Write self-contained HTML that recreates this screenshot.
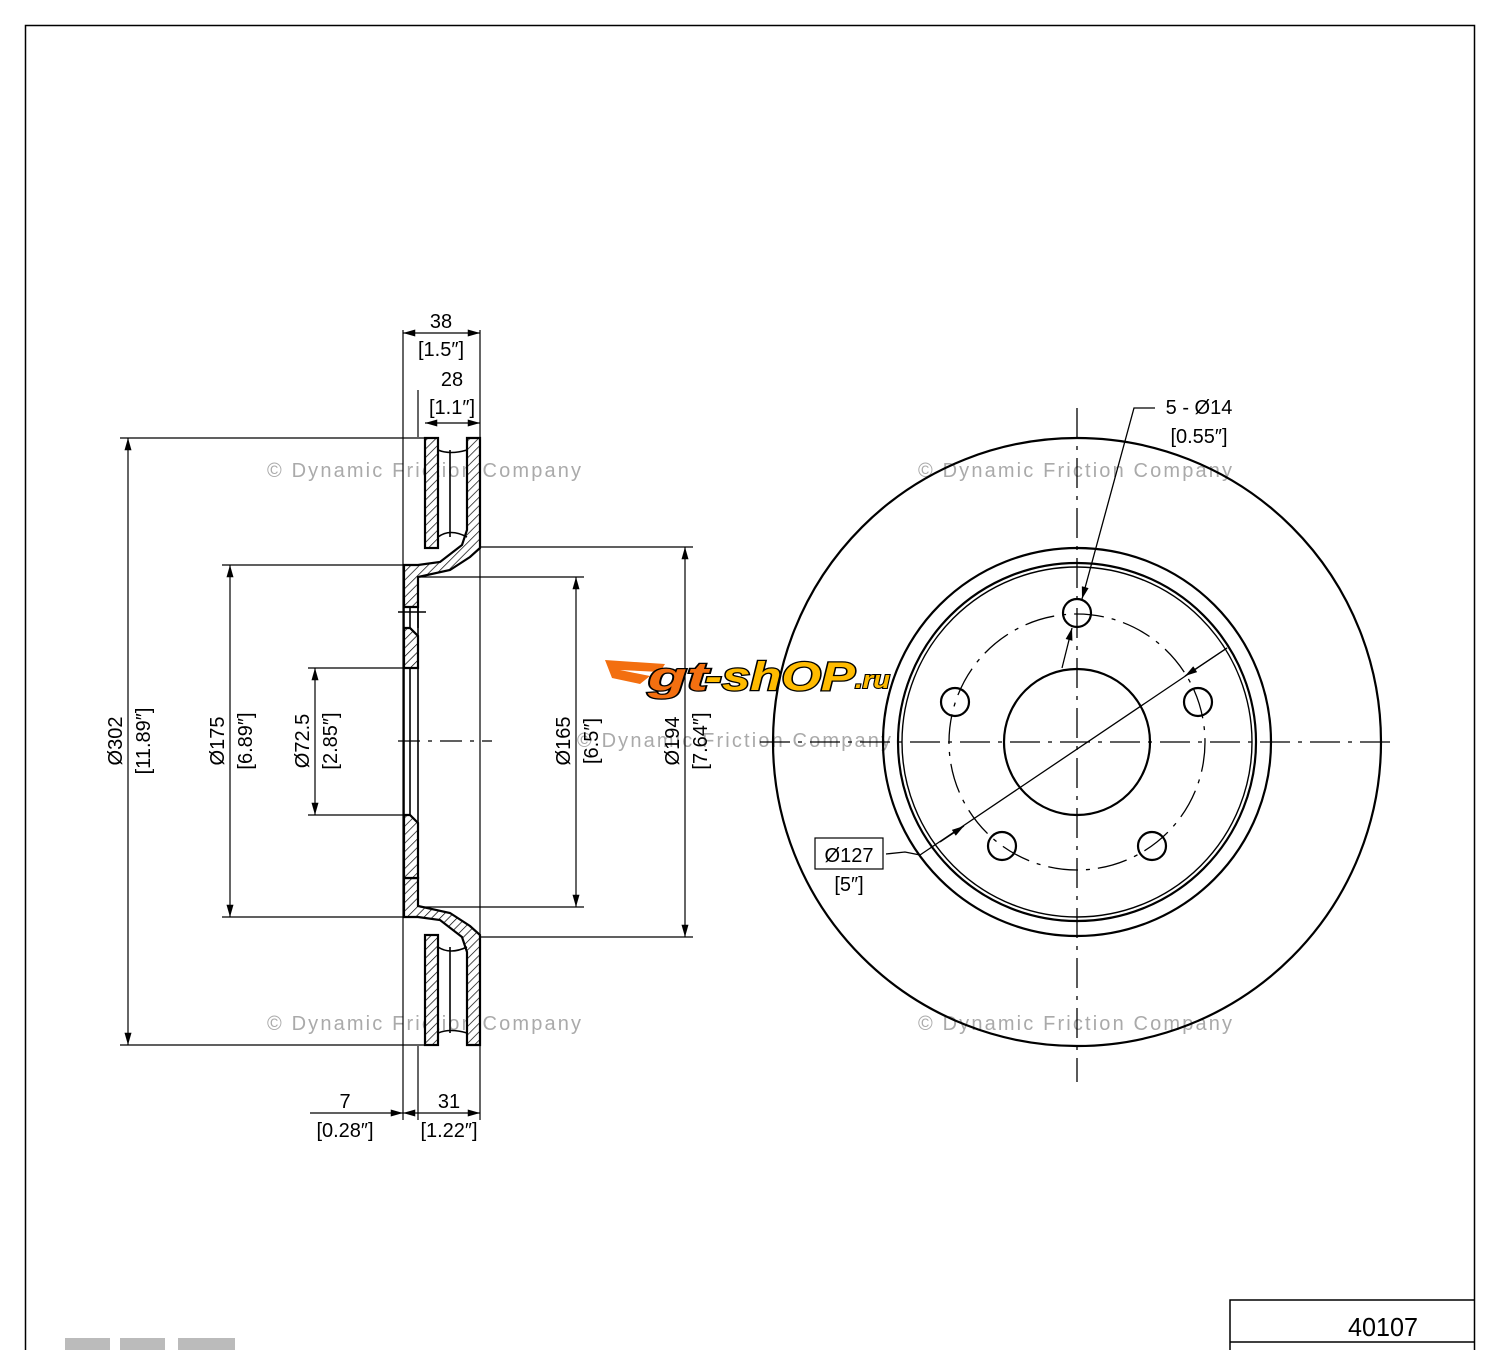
<!DOCTYPE html>
<html><head><meta charset="utf-8"><style>
body{margin:0;background:#fff}
svg text{font-family:"Liberation Sans",sans-serif}
</style></head><body>
<svg width="1500" height="1350" viewBox="0 0 1500 1350" xmlns="http://www.w3.org/2000/svg">
<defs>
<pattern id="h" patternUnits="userSpaceOnUse" width="6" height="6" patternTransform="rotate(45)">
<rect width="6" height="6" fill="#fff"/><line x1="0" y1="0" x2="0" y2="6" stroke="#000" stroke-width="1.4"/></pattern>
<marker id="a" viewBox="0 0 14 8" refX="14" refY="4" markerWidth="14" markerHeight="7" orient="auto-start-reverse" markerUnits="userSpaceOnUse"><path d="M0,0 L14,4 L0,8z" fill="#000"/></marker>
</defs>
<rect x="25.5" y="25.5" width="1449" height="1340" fill="none" stroke="#000" stroke-width="1.5"/>
<polyline points="1230,1350 1230,1300 1475,1300" fill="none" stroke="#000" stroke-width="1.5"/>
<line x1="1230" y1="1342" x2="1475" y2="1342" stroke="#000" stroke-width="1.5"/>
<text x="1418" y="1336" font-size="26" text-anchor="end" textLength="70" lengthAdjust="spacingAndGlyphs">40107</text>
<g fill="#bbb"><rect x="65" y="1338" width="45" height="12"/><rect x="120" y="1338" width="45" height="12"/><rect x="178" y="1338" width="57" height="12"/></g>

<g fill="#aaa" font-size="20">
<text x="267" y="477" textLength="314">© Dynamic Friction Company</text>
<text x="918" y="477" textLength="314">© Dynamic Friction Company</text>
<text x="577" y="747" textLength="314">© Dynamic Friction Company</text>
<text x="267" y="1030" textLength="314">© Dynamic Friction Company</text>
<text x="918" y="1030" textLength="314">© Dynamic Friction Company</text>
</g>

<!-- left section view -->
<g stroke="#000" stroke-width="2.2" fill="url(#h)">
<rect x="425" y="438" width="13" height="110"/>
<rect x="425" y="935" width="13" height="110"/>
<path d="M467,438 H480 V548 L470,557 L450,570 L418,577 V607 H404 V565 H418 L440,562 L462,545 L467,530z"/>
<path d="M467,1045 H480 V935 L470,926 L450,913 L418,906 V878 H404 V917 H418 L440,920 L462,937 L467,952z"/>
<path d="M404,628 H410 L418,636 V668 H404z"/>
<path d="M404,815 H410 L418,823 V878 H404z"/>
</g>
<g stroke="#000" stroke-width="1.6" fill="none">
<path d="M438,450 Q450,455 467,450 M438,537 Q450,528 467,537 M438,947 Q450,955 467,947 M438,1033 Q450,1028 467,1033"/>
<line x1="450" y1="450" x2="450" y2="537"/><line x1="450" y1="947" x2="450" y2="1033"/>
<line x1="404" y1="607" x2="404" y2="628"/><line x1="410" y1="607" x2="410" y2="628"/>
<line x1="418" y1="607" x2="418" y2="628"/>
<line x1="404" y1="668" x2="404" y2="815"/><line x1="410" y1="668" x2="410" y2="815"/>
<line x1="418" y1="577" x2="418" y2="906"/>
<line x1="398" y1="612" x2="426" y2="612"/>
</g>
<g stroke="#000" stroke-width="1.2" fill="none">
<line x1="403" y1="330" x2="403" y2="1120"/><line x1="480" y1="330" x2="480" y2="1120"/>
<line x1="418" y1="390" x2="418" y2="437"/><line x1="418" y1="1046" x2="418" y2="1120"/>
<line x1="120" y1="438" x2="425" y2="438"/><line x1="120" y1="1045" x2="425" y2="1045"/>
<line x1="222" y1="565" x2="403" y2="565"/><line x1="222" y1="917" x2="403" y2="917"/>
<line x1="308" y1="668" x2="403" y2="668"/><line x1="308" y1="815" x2="403" y2="815"/>
<line x1="420" y1="577" x2="584" y2="577"/><line x1="420" y1="907" x2="584" y2="907"/>
<line x1="481" y1="547" x2="693" y2="547"/><line x1="481" y1="937" x2="693" y2="937"/>
<line x1="398" y1="741" x2="492" y2="741" stroke-dasharray="22,8,4,8"/>
<line x1="128" y1="438" x2="128" y2="1045" marker-start="url(#a)" marker-end="url(#a)"/>
<line x1="230" y1="565" x2="230" y2="917" marker-start="url(#a)" marker-end="url(#a)"/>
<line x1="315" y1="668" x2="315" y2="815" marker-start="url(#a)" marker-end="url(#a)"/>
<line x1="576" y1="577" x2="576" y2="907" marker-start="url(#a)" marker-end="url(#a)"/>
<line x1="685" y1="547" x2="685" y2="937" marker-start="url(#a)" marker-end="url(#a)"/>
<line x1="403" y1="333" x2="480" y2="333" marker-start="url(#a)" marker-end="url(#a)"/>
<line x1="425" y1="423" x2="480" y2="423" marker-start="url(#a)" marker-end="url(#a)"/>
<line x1="403" y1="1113" x2="480" y2="1113" marker-start="url(#a)" marker-end="url(#a)"/>
<line x1="310" y1="1113" x2="403" y2="1113" marker-end="url(#a)"/>
</g>
<g font-size="20" text-anchor="middle" fill="#000">
<text x="441" y="328">38</text><text x="441" y="356">[1.5″]</text>
<text x="452" y="386">28</text><text x="452" y="414">[1.1″]</text>
<text x="345" y="1108">7</text><text x="345" y="1137">[0.28″]</text>
<text x="449" y="1108">31</text><text x="449" y="1137">[1.22″]</text>
<text transform="translate(122,741) rotate(-90)">Ø302</text>
<text transform="translate(150,741) rotate(-90)">[11.89″]</text>
<text transform="translate(224,741) rotate(-90)">Ø175</text>
<text transform="translate(252,741) rotate(-90)">[6.89″]</text>
<text transform="translate(309,741) rotate(-90)">Ø72.5</text>
<text transform="translate(337,741) rotate(-90)">[2.85″]</text>
<text transform="translate(570,741) rotate(-90)">Ø165</text>
<text transform="translate(598,741) rotate(-90)">[6.5″]</text>
<text transform="translate(679,741) rotate(-90)">Ø194</text>
<text transform="translate(707,741) rotate(-90)">[7.64″]</text>
</g>

<!-- right view -->
<g stroke="#000" stroke-width="2.2" fill="none">
<circle cx="1077" cy="742" r="304"/>
<circle cx="1077" cy="742" r="194"/>
<circle cx="1077" cy="742" r="179"/>
<circle cx="1077" cy="742" r="175" stroke-width="1.4"/>
<circle cx="1077" cy="742" r="73"/>
<circle cx="1077" cy="613" r="14"/>
<circle cx="1198" cy="702" r="14"/>
<circle cx="1152" cy="846" r="14"/>
<circle cx="1002" cy="846" r="14"/>
<circle cx="955" cy="702" r="14"/>
</g>
<g stroke="#000" stroke-width="1.3" fill="none">
<circle cx="1077" cy="742" r="128" stroke-dasharray="30,8,4,8"/>
<line x1="1077" y1="408" x2="1077" y2="1082" stroke-dasharray="30,8,4,8"/>
<line x1="760" y1="742" x2="1398" y2="742" stroke-dasharray="30,8,4,8"/>
<line x1="1227" y1="648" x2="920" y2="855"/>
<line x1="1185" y1="676" x2="1227" y2="648" marker-start="url(#a)"/>
<line x1="940" y1="842" x2="964" y2="826" marker-end="url(#a)"/>
<polyline points="920,855 905,852 886,854"/>
<polyline points="1155,408 1134,408 1082,599" marker-end="url(#a)"/>
<line x1="1062" y1="668" x2="1072" y2="628" marker-end="url(#a)"/>
<rect x="815" y="838" width="68" height="31" stroke-width="1.2"/>
</g>
<g font-size="20" fill="#000" text-anchor="middle">
<text x="1199" y="414">5 - Ø14</text><text x="1199" y="443">[0.55″]</text>
<text x="849" y="862">Ø127</text><text x="849" y="891">[5″]</text>
</g>

<g>
<path d="M605,660 L665,664 L660,672 L620,670 L650,676 L640,684 L612,678z" fill="#f36f10"/>
<text x="648" y="690" font-size="40" font-weight="bold" font-style="italic" fill="#f36f10" stroke="#000" stroke-width="2.5" paint-order="stroke" textLength="60" lengthAdjust="spacingAndGlyphs">gt</text>
<text x="705" y="690" font-size="40" font-weight="bold" font-style="italic" fill="#ffbb00" stroke="#000" stroke-width="2.5" paint-order="stroke" textLength="150" lengthAdjust="spacingAndGlyphs">-shOP</text>
<text x="855" y="688" font-size="24" font-weight="bold" font-style="italic" fill="#ffbb00" stroke="#000" stroke-width="2" paint-order="stroke" textLength="35" lengthAdjust="spacingAndGlyphs">.ru</text>
</g>
</svg>
</body></html>
